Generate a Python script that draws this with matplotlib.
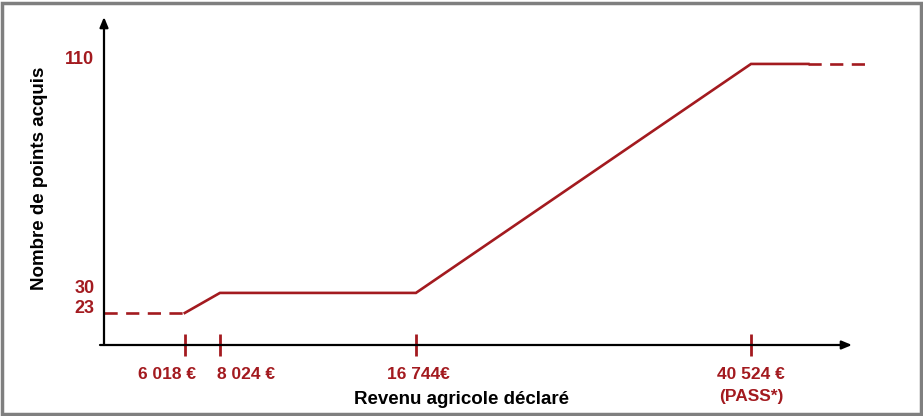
import numpy as np
import matplotlib
matplotlib.use("Agg")
import matplotlib.pyplot as plt
from matplotlib.patches import Rectangle

# data
revenu_ticks = [6018, 8024, 16744, 40524]
tick_labels = ["6 018 €", "8 024 €", "16 744€", "40 524 €\n(PASS*)"]
label_shift = [-13, 19, 2, 0]  # horizontal nudge of each label, in points
points_ticks = [23, 30, 110]

# solid part of the curve
rev_solid = [6018, 8024, 16744, 40524, 48600]
pts_solid = [23, 30, 30, 110, 110]
# dashed extensions (left and right)
rev_dash_left = [0, 6018]
pts_dash_left = [23, 23]
rev_dash_right = [48600, 57000]
pts_dash_right = [110, 110]

red = "#a31a1f"
plt.rcParams["font.family"] = ["Liberation Sans", "DejaVu Sans"]
plt.rcParams["font.weight"] = "bold"

# non-linear (piecewise) revenue axis, like the original drawing
knots_eur = [0, 6018, 8024, 16744, 40524, 60000]
knots_pos = [0, 0.108, 0.155, 0.417, 0.865, 1.05]


def fwd(x):
    return np.interp(x, knots_eur, knots_pos)


def inv(p):
    return np.interp(p, knots_pos, knots_eur)


fig = plt.figure(figsize=(9.23, 4.16), dpi=100)
ax = fig.add_axes([104 / 923, 71 / 416, 748 / 923, 328 / 416])
ax.set_xscale("function", functions=(fwd, inv))
ax.set_xlim(0, inv(1.0))
ax.set_ylim(11.8, 126.4)

ax.plot(rev_solid, pts_solid, color=red, lw=1.9, solid_joinstyle="miter", clip_on=False)
ax.plot(rev_dash_left, pts_dash_left, color=red, lw=1.9, dashes=(5, 3.2), clip_on=False)
ax.plot(rev_dash_right, pts_dash_right, color=red, lw=1.9, dashes=(5, 3.2), clip_on=False)

for s in ax.spines.values():
    s.set_visible(False)

# axes with arrows
arrow = dict(arrowstyle="-|>,head_length=0.6,head_width=0.25", color="black", lw=1.6,
             shrinkA=0, shrinkB=0)
ax.annotate("", xy=(0, 1), xytext=(0, 0), xycoords="axes fraction", arrowprops=arrow)
ax.annotate("", xy=(1, 0), xytext=(-4 / 748, 0), xycoords="axes fraction", arrowprops=arrow)

ax.set_xticks(revenu_ticks)
ax.set_xticklabels([])
ax.xaxis.set_minor_locator(matplotlib.ticker.NullLocator())
ax.tick_params(axis="x", direction="inout", length=16, width=2, color=red)
for v, lab, dx in zip(revenu_ticks, tick_labels, label_shift):
    ax.annotate(lab, xy=(v, 0), xycoords=("data", "axes fraction"),
                xytext=(dx, -16), textcoords="offset points", ha="center", va="top",
                color=red, fontsize=12.5, fontweight="bold", linespacing=1.55,
                annotation_clip=False)

ax.set_yticks(points_ticks)
ax.set_yticklabels([])
ax.tick_params(axis="y", length=0)
for v in points_ticks:
    ax.annotate(str(v), xy=(0, v), xycoords=("axes fraction", "data"),
                xytext=(-7, 3), textcoords="offset points", ha="right", va="center",
                color=red, fontsize=13, fontweight="bold", annotation_clip=False)

fig.text(40 / 923, 1 - 178 / 416, "Nombre de points acquis", rotation=90,
         ha="center", va="center", fontsize=13.5, fontweight="bold")
fig.text(461 / 923, 1 - 400 / 416, "Revenu agricole déclaré",
         ha="center", va="center", fontsize=13.5, fontweight="bold")

# grey frame around the picture
fig.patches.append(Rectangle((2 / 923, 2 / 416), 919 / 923, 411 / 416, transform=fig.transFigure,
                             fill=False, edgecolor="#7f7f7f", lw=2.5))

fig.savefig("out.png", dpi=100)
